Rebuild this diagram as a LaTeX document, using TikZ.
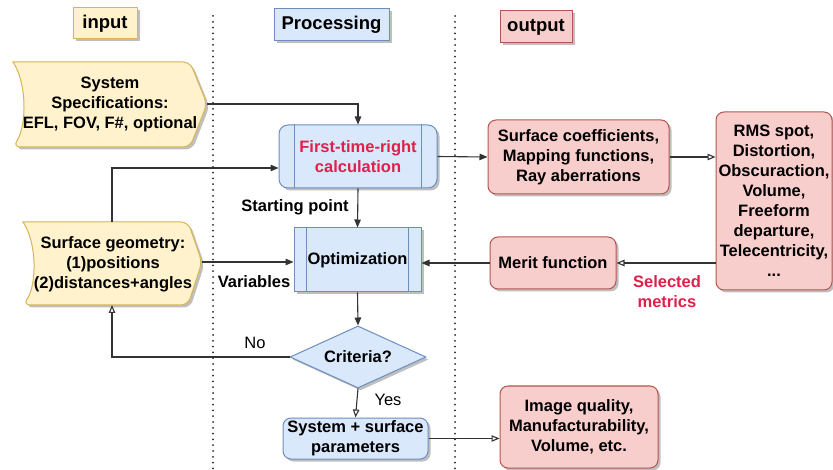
\documentclass[tikz,border=0pt]{standalone}
\usepackage{fontspec}
\setmainfont{Liberation Sans}
\usetikzlibrary{arrows.meta,shapes.geometric,shadows,calc}
\definecolor{yfill}{HTML}{FFF2CC}
\definecolor{ydraw}{HTML}{D6B656}
\definecolor{bfill}{HTML}{DAE8FC}
\definecolor{bdraw}{HTML}{6C8EBF}
\definecolor{rfill}{HTML}{F8CECC}
\definecolor{rdraw}{HTML}{B85450}
\definecolor{redtxt}{HTML}{E0204A}
\definecolor{ln}{HTML}{333333}
\tikzset{
  shd/.style={drop shadow={shadow xshift=2.5pt,shadow yshift=-2.5pt,opacity=0.25,fill=black}},
  txt/.style={font=\fontsize{16.5}{20}\selectfont\bfseries,align=center,inner sep=0pt},
  head/.style={font=\fontsize{18.5}{22}\selectfont\bfseries,align=center,inner sep=0pt,line width=1pt,shd},
  ybox/.style={txt,draw=ydraw,fill=yfill,line width=1pt},
  bbox/.style={txt,draw=bdraw,fill=bfill,line width=1pt,shd},
  rbox/.style={txt,draw=rdraw,fill=rfill,line width=1pt,rounded corners=8pt,shd},
  conn/.style={draw=ln,line width=1.1pt,-{Triangle[length=8pt,width=6.5pt]}},
  oconn/.style={draw=ln,line width=1.1pt,-{Triangle[open,length=8pt,width=6.5pt]}},
  sep/.style={line width=2pt,line cap=round,dash pattern=on 0pt off 5.8pt,black!85},
  lbl/.style={txt}
}
\begin{document}
\begin{tikzpicture}[x=1pt,y=-1pt]
\useasboundingbox (0,0) rectangle (833,470);
% separators
\draw[sep] (213,16) -- (213,470);
\draw[sep] (455,16) -- (455,470);
% headers
\node[head,draw=ydraw,fill=yfill,minimum width=64pt,minimum height=31pt] (hin) at (105,23.5) {input};
\node[head,draw=bdraw,fill=bfill,minimum width=115pt,minimum height=32pt] (hproc) at (331.5,25) {Processing};
\node[head,draw=rdraw,fill=rfill,minimum width=72pt,minimum height=32pt] (hout) at (536,27) {output};
% input step shapes
\path[draw=ydraw,fill=yfill,line width=1pt,rounded corners=7pt,shd]
  (13,62) -- (190,62) -- (207,104) -- (190,147) -- (13,147) [sharp corners] .. controls (27,125) and (27,83) .. (13,62) -- cycle;
\node[txt] (spec) at (110,104) {System\\Specifications:\\EFL, FOV, F\#, optional};
\coordinate (specTip) at (207,104);
\path[draw=ydraw,fill=yfill,line width=1pt,rounded corners=7pt,shd]
  (23,222) -- (188,222) -- (202,262) -- (188,305) -- (23,305) [sharp corners] .. controls (37,285) and (37,242) .. (23,222) -- cycle;
\node[txt] (geo) at (113,264) {Surface geometry:\\(1)positions\\(2)distances+angles};
\coordinate (geoTop) at (112,222);
\coordinate (geoBot) at (112,305);
\coordinate (geoTip) at (202,262);
% processing
\node[bbox,rounded corners=9pt,minimum width=158pt,minimum height=63pt,text=redtxt] (ftr) at (358,156.5) {First-time-right\\calculation};
\draw[bdraw,line width=1pt] ([xshift=16pt]ftr.north west) -- ([xshift=16pt]ftr.south west);
\draw[bdraw,line width=1pt] ([xshift=-16pt]ftr.north east) -- ([xshift=-16pt]ftr.south east);
\node[bbox,minimum width=127pt,minimum height=64pt] (opt) at (357.5,260) {Optimization};
\draw[bdraw,line width=1pt] ([xshift=13pt]opt.north west) -- ([xshift=13pt]opt.south west);
\draw[bdraw,line width=1pt] ([xshift=-13pt]opt.north east) -- ([xshift=-13pt]opt.south east);
\node[bbox,diamond,aspect=2.19,minimum width=136pt,minimum height=62pt] (crit) at (358,357) {Criteria?};
\node[bbox,rounded corners=8pt,minimum width=145pt,minimum height=41pt] (sys) at (355.5,438.5) {System + surface\\parameters};
% output
\node[rbox,minimum width=181pt,minimum height=74pt] (sc) at (578.5,157) {Surface coefficients,\\Mapping functions,\\Ray aberrations};
\node[rbox,minimum width=116pt,minimum height=178pt] (rms) at (774,201) {RMS spot,\\Distortion,\\Obscuraction,\\Volume,\\Freeform\\departure,\\Telecentricity,\\...};
\node[rbox,minimum width=126pt,minimum height=52pt] (mer) at (553,263) {Merit function};
\node[rbox,minimum width=158pt,minimum height=82pt] (iq) at (579,427) {Image quality,\\Manufacturability,\\Volume, etc.};
% connectors
\draw[conn] (specTip) -| (ftr.north);
\draw[conn] (geoTop) |- ([yshift=-11.5pt]ftr.west);
\draw[conn] (geoTip) -- (opt.west |- geoTip);
\draw[conn] (ftr.south) -- (opt.north);
\draw[conn] (opt.south) -- (crit.north);
\draw[oconn] (crit.west) -| (geoBot);
\draw[oconn] (crit.south) -- (sys.north);
\draw[conn] (ftr.east) -- (sc.west);
\draw[oconn] (sc.east) -- (rms.west |- sc.east);
\draw[oconn] (rms.west |- mer.east) -- (mer.east);
\draw[conn] (mer.west) -- (opt.east |- mer.west);
\draw[oconn] (sys.east) -- (iq.west |- sys.east);
% labels
\node[lbl] (lsp) at (295,207) {Starting point};
\node[lbl] (lvar) at (254,282) {Variables};
\node[lbl,font=\fontsize{16.5}{20}\selectfont] (lno) at (255,343) {No};
\node[lbl,font=\fontsize{16.5}{20}\selectfont] (lyes) at (388,400) {Yes};
\node[lbl,text=redtxt] (lsel) at (667,292) {Selected\\metrics};
\end{tikzpicture}
\end{document}
